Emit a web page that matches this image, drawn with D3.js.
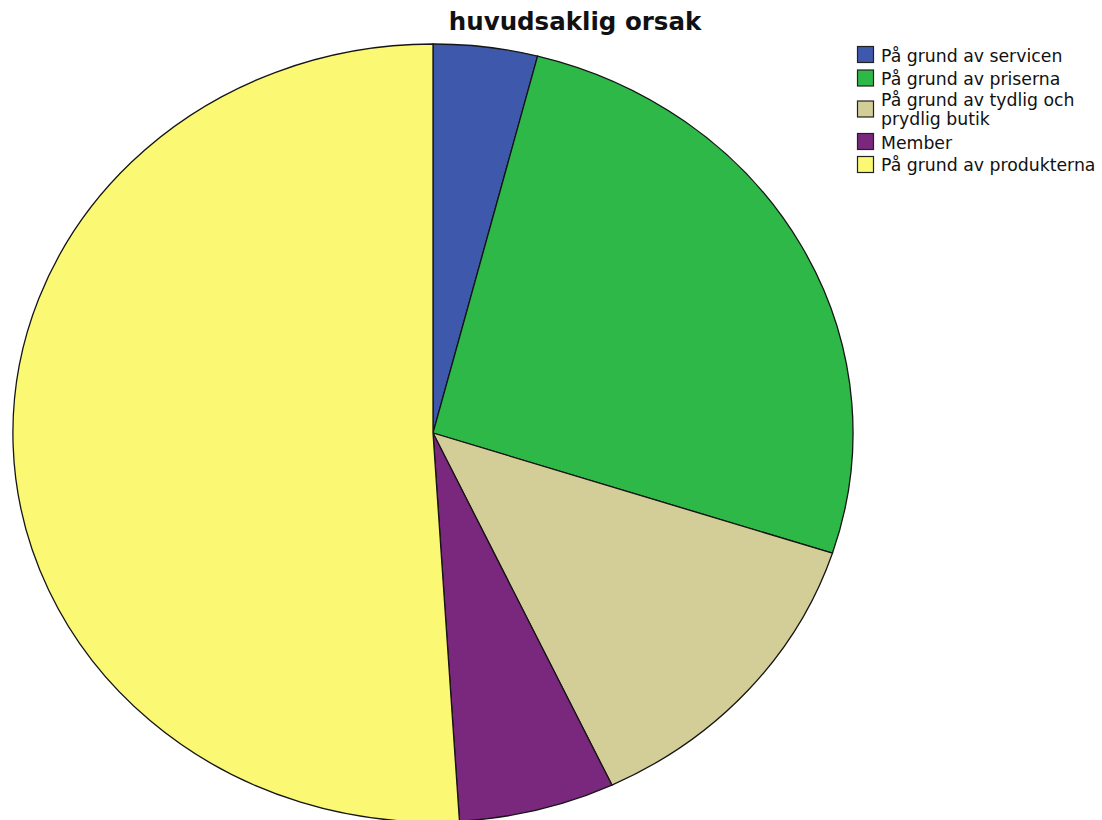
<!DOCTYPE html>
<html>
<head>
<meta charset="utf-8">
<script src="https://cdn.jsdelivr.net/npm/d3@7"></script>
<style>
  html, body { margin: 0; padding: 0; background: #fff; }
  svg { display: block; }
</style>
</head>
<body>
<svg id="chart" width="1102" height="820"></svg>
<script>
const title = "huvudsaklig orsak";
const categories = [
  "På grund av servicen",
  "På grund av priserna",
  "På grund av tydlig och prydlig butik",
  "Member",
  "På grund av produkterna"
];
const legendLines = [
  ["På grund av servicen"],
  ["På grund av priserna"],
  ["På grund av tydlig och", "prydlig butik"],
  ["Member"],
  ["På grund av produkterna"]
];
const values = [4, 26, 13, 6, 51];
const colors = ["#3E58AC", "#2EB848", "#D3CE97", "#79287D", "#FBF873"];

const svg = d3.select("#chart");

// Pie (drawn as a slightly flattened ellipse, as in the reference)
const cx = 433, cy = 433, rx = 420, ry = 389;
const pie = d3.pie().sort(null).value(d => d.value).startAngle(0).endAngle(2 * Math.PI);
const arc = d3.arc().innerRadius(0).outerRadius(1);
const data = categories.map((c, i) => ({ name: c, value: values[i], color: colors[i] }));

const g = svg.append("g").attr("transform", `translate(${cx},${cy}) scale(${rx},${ry})`);
g.selectAll("path.slice")
  .data(pie(data))
  .join("path")
  .attr("class", "slice")
  .attr("d", arc)
  .attr("fill", d => d.data.color)
  .attr("stroke", "#151515")
  .attr("stroke-width", 1.3)
  .attr("vector-effect", "non-scaling-stroke");

// Title
svg.append("text")
  .attr("x", 575)
  .attr("y", 30)
  .attr("text-anchor", "middle")
  .attr("font-family", "'DejaVu Sans', sans-serif")
  .attr("font-weight", "bold")
  .attr("font-size", 24.5)
  .attr("fill", "#111")
  .text(title);

// Legend
const swatchTop = [46, 69.5, 100.5, 133, 156];
const baselines = [62, 85.3, 106, 148.7, 171.3];
const lineGap = 19;
const lg = svg.append("g").attr("font-family", "'DejaVu Sans', sans-serif").attr("font-size", 17.3).attr("fill", "#111");
data.forEach((d, i) => {
  lg.append("rect")
    .attr("x", 857.5)
    .attr("y", swatchTop[i] + 0.5)
    .attr("width", 16)
    .attr("height", 16)
    .attr("fill", d.color)
    .attr("stroke", "#222")
    .attr("stroke-width", 1.2);
  const t = lg.append("text").attr("x", 881).attr("y", baselines[i]);
  legendLines[i].forEach((ln, j) => {
    t.append("tspan").attr("x", 881).attr("y", baselines[i] + j * lineGap).text(ln);
  });
});
</script>
</body>
</html>
